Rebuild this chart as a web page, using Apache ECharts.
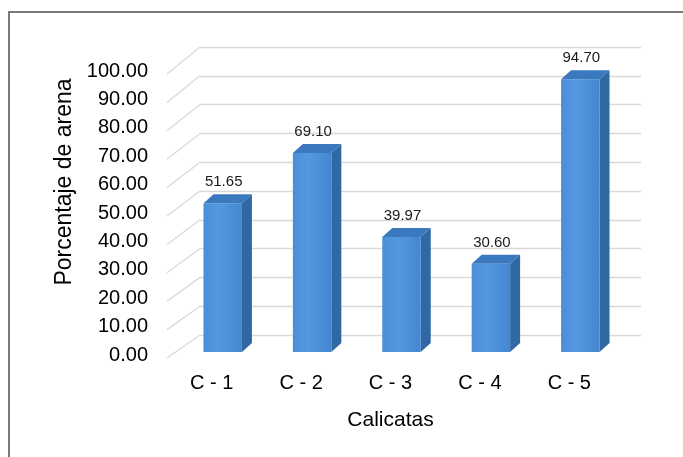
<!DOCTYPE html>
<html>
<head>
<meta charset="utf-8">
<script src="https://cdn.jsdelivr.net/npm/echarts@6/dist/echarts.min.js"></script>
<style>
html,body{margin:0;padding:0;background:#fff;}
#c{width:683px;height:457px;}
</style>
</head>
<body>
<div id="c"></div>
<script>
const categories = ['C - 1', 'C - 2', 'C - 3', 'C - 4', 'C - 5'];
const values = [51.65, 69.10, 39.97, 30.60, 94.70];
const yMin = 0, yMax = 100, yStep = 10;
const yTicks = [0, 10, 20, 30, 40, 50, 60, 70, 80, 90, 100];
const yTitle = 'Porcentaje de arena';
const xTitle = 'Calicatas';

const FONT = '"Liberation Sans", Arial, sans-serif';
const DX = 10, DY = -9;

const chart = echarts.init(document.getElementById('c'));

function renderBar(params, api) {
  const i = api.value(0), v = api.value(1);
  const base = api.coord([i, 0]);
  const top = api.coord([i, v]);
  const w = api.size([1, 0])[0] * 0.43;
  const x0 = base[0] - w / 2, x1 = base[0] + w / 2;
  const y0 = base[1], y1 = top[1];
  return {
    type: 'group',
    children: [
      {
        type: 'polygon',
        shape: { points: [[x1, y1], [x1 + DX, y1 + DY], [x1 + DX, y0 + DY], [x1, y0]] },
        style: { fill: '#2f68a3' }
      },
      {
        type: 'rect',
        shape: { x: x0, y: y1, width: w, height: y0 - y1 },
        style: {
          fill: new echarts.graphic.LinearGradient(0, 0, 1, 0, [
            { offset: 0, color: '#4a8ed8' },
            { offset: 0.4, color: '#5499e0' },
            { offset: 1, color: '#4486d0' }
          ])
        }
      },
      {
        type: 'polygon',
        shape: { points: [[x0, y1], [x1, y1], [x1 + DX, y1 + DY], [x0 + DX, y1 + DY]] },
        style: { fill: '#3b79bf' }
      },
      {
        type: 'text',
        style: {
          x: base[0] + 1,
          y: y1 + DY - 5,
          text: v.toFixed(2),
          textAlign: 'center',
          textVerticalAlign: 'bottom',
          fill: '#1a1a1a',
          font: '15px ' + FONT
        }
      }
    ]
  };
}

const option = {
  backgroundColor: '#fff',
  animation: false,
  grid: [
    { left: 200, right: 42, top: 47, bottom: 122 },
    { left: 167, right: 69, top: 71, bottom: 102 },
    { left: 178, right: 58, top: 64, bottom: 105 }
  ],
  xAxis: [
    { gridIndex: 0, type: 'value', min: 0, max: 1, show: false },
    {
      gridIndex: 1, type: 'category', data: categories,
      axisLine: { show: false }, axisTick: { show: false },
      axisLabel: { color: '#000', fontSize: 20, fontFamily: FONT, margin: 18 },
      name: xTitle, nameLocation: 'middle', nameGap: 55,
      nameTextStyle: { color: '#000', fontSize: 21, fontFamily: FONT }
    },
    { gridIndex: 2, type: 'category', data: categories, show: false }
  ],
  yAxis: [
    {
      gridIndex: 0, type: 'value', min: yMin, max: yMax, interval: yStep,
      axisLine: { show: false }, axisTick: { show: false }, axisLabel: { show: false },
      splitLine: { show: true, lineStyle: { color: '#d9d9d9', width: 1.3 } }
    },
    {
      gridIndex: 1, type: 'value', min: yMin, max: yMax, interval: yStep,
      axisLine: { show: false }, axisTick: { show: false }, splitLine: { show: false },
      axisLabel: {
        color: '#000', fontSize: 20, fontFamily: FONT, margin: 19,
        formatter: v => v.toFixed(2)
      },
      name: yTitle, nameLocation: 'middle', nameGap: 89, nameRotate: 90,
      nameTextStyle: { color: '#000', fontSize: 23, fontFamily: FONT, padding: [0, 0, 0, 62] }
    },
    { gridIndex: 2, type: 'value', min: yMin, max: yMax, show: false }
  ],
  series: [
    {
      type: 'custom',
      xAxisIndex: 2, yAxisIndex: 2,
      data: values.map((v, i) => [i, v]),
      renderItem: renderBar,
      z: 5
    }
  ],
  graphic: [
    {
      type: 'rect', z: 100, silent: true,
      shape: { x: 9, y: 12, width: 720, height: 520 },
      style: { fill: 'none', stroke: '#7a7a7a', lineWidth: 2 }
    }
  ]
};

chart.setOption(option);

// side wall lines: connect front-left edge to back wall for each tick
const backRect = chart.getModel().getComponent('grid', 0).coordinateSystem.getRect();
const frontRect = chart.getModel().getComponent('grid', 1).coordinateSystem.getRect();
const sideLines = yTicks.map(t => {
  const yb = chart.convertToPixel({ yAxisIndex: 0 }, t);
  const yf = chart.convertToPixel({ yAxisIndex: 1 }, t) + 3;
  return {
    type: 'line', z: 1, silent: true,
    shape: { x1: frontRect.x, y1: yf, x2: backRect.x, y2: yb },
    style: { stroke: '#d9d9d9', lineWidth: 1.3 }
  };
});
chart.setOption({ graphic: option.graphic.concat(sideLines) });
</script>
</body>
</html>
